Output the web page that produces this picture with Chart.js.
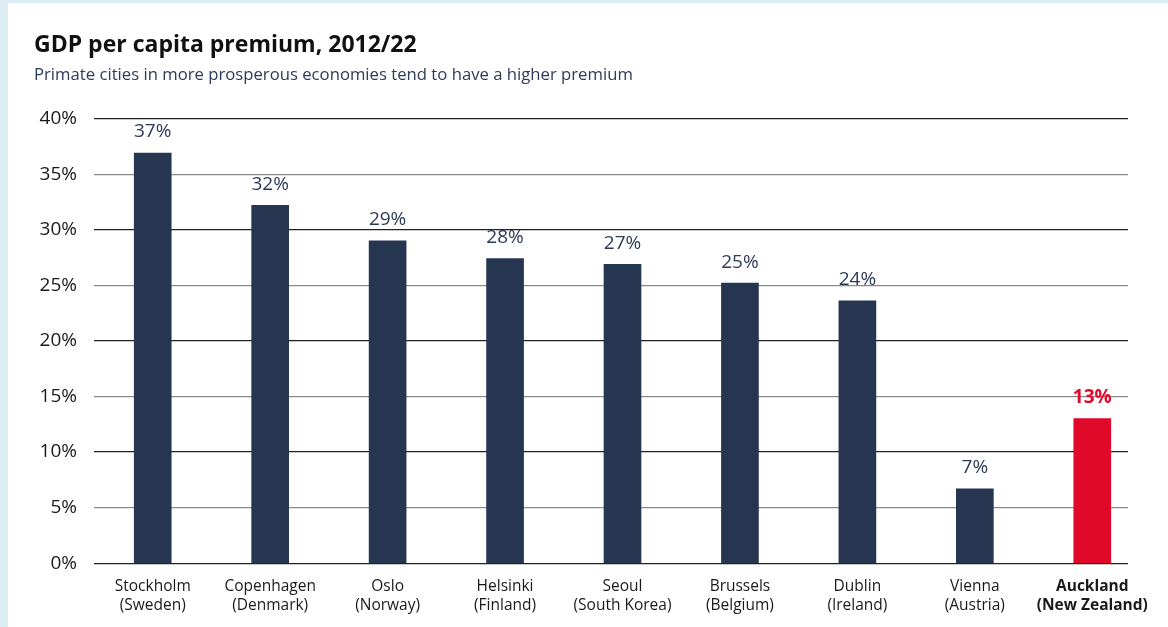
<!DOCTYPE html>
<html>
<head>
<meta charset="utf-8">
<script src="https://cdn.jsdelivr.net/npm/chart.js@4"></script>
<style>
  html, body { margin: 0; padding: 0; background: #dcecf4; }
  #panel { position: absolute; left: 8px; top: 3px; width: 1160px; height: 624px; background: #fff; }
  canvas { display: block; }
</style>
</head>
<body>
<div id="panel"><canvas id="grafico" width="1160" height="624"></canvas></div>
<script>
// datos del gráfico
let ciudades = [
  ['Stockholm', '(Sweden)'],
  ['Copenhagen', '(Denmark)'],
  ['Oslo', '(Norway)'],
  ['Helsinki', '(Finland)'],
  ['Seoul', '(South Korea)'],
  ['Brussels', '(Belgium)'],
  ['Dublin', '(Ireland)'],
  ['Vienna', '(Austria)'],
  ['Auckland', '(New Zealand)']
];
let primas = [36.9, 32.2, 29.0, 27.4, 26.9, 25.2, 23.6, 6.7, 13.0];
let etiquetas = ['37%', '32%', '29%', '28%', '27%', '25%', '24%', '7%', '13%'];
let marcasY = [0, 5, 10, 15, 20, 25, 30, 35, 40];

let azul = '#263550';
let rojo = '#e0092a';
let destacado = 8; // Auckland
let fuente = "'Open Sans', 'Liberation Sans', sans-serif";
let finRejilla = 1120; // las líneas de la rejilla terminan aquí

let colores = primas.map((v, i) => i === destacado ? rojo : azul);

// recorta las líneas de la rejilla a la derecha
let recorteRejilla = {
  id: 'recorteRejilla',
  beforeDatasetsDraw(chart) {
    let a = chart.chartArea;
    let ctx = chart.ctx;
    ctx.save();
    ctx.fillStyle = '#fff';
    ctx.fillRect(finRejilla, a.top - 3, chart.width - finRejilla, a.bottom - a.top + 6);
    ctx.restore();
  }
};

// etiquetas encima de las barras
let etiquetasBarras = {
  id: 'etiquetasBarras',
  afterDatasetsDraw(chart) {
    let ctx = chart.ctx;
    let meta = chart.getDatasetMeta(0);
    ctx.save();
    ctx.textAlign = 'center';
    ctx.textBaseline = 'middle';
    meta.data.forEach((bar, i) => {
      if (i === destacado) {
        ctx.font = "bold 19px " + fuente;
        ctx.fillStyle = rojo;
      } else {
        ctx.font = "19px " + fuente;
        ctx.fillStyle = '#2d3a58';
      }
      ctx.fillText(etiquetas[i], bar.x, bar.y - 21);
    });
    ctx.restore();
  }
};

let canvas = document.getElementById('grafico');
let grafica = new Chart(canvas, {
  type: 'bar',
  data: {
    labels: ciudades,
    datasets: [{
      data: primas,
      backgroundColor: colores,
      barThickness: 37
    }]
  },
  options: {
    responsive: false,
    animation: false,
    layout: { padding: { left: 26, right: 17, top: 29, bottom: 6 } },
    plugins: {
      legend: { display: false },
      tooltip: { enabled: false },
      title: {
        display: true,
        text: 'GDP per capita premium, 2012/22',
        align: 'start',
        color: '#111',
        font: { family: fuente, size: 23, weight: 'bold' },
        padding: { top: 0, bottom: 6 }
      },
      subtitle: {
        display: true,
        text: 'Primate cities in more prosperous economies tend to have a higher premium',
        align: 'start',
        color: '#2d3a58',
        font: { family: fuente, size: 16.7 },
        padding: { top: 0, bottom: 33 }
      }
    },
    scales: {
      x: {
        grid: { display: false },
        border: { display: false },
        ticks: {
          maxRotation: 0,
          autoSkip: false,
          padding: 6,
          color: '#1a1a1a',
          font: ctx => ctx.index === destacado
            ? { family: fuente, size: 15.5, weight: 'bold', lineHeight: 1.22 }
            : { family: fuente, size: 15.5, lineHeight: 1.22 }
        }
      },
      y: {
        min: 0,
        max: 40,
        afterBuildTicks: axis => { axis.ticks = marcasY.map(v => ({ value: v })); },
        afterFit: axis => { axis.width = 60; },
        border: { display: false },
        grid: {
          drawTicks: false,
          color: ctx => ctx.tick.value % 10 === 0 ? '#222' : '#8a8a8a',
          lineWidth: 1.2
        },
        ticks: {
          padding: 17,
          color: '#1a1a1a',
          font: { family: fuente, size: 19 },
          callback: v => v + '%'
        }
      }
    }
  },
  plugins: [recorteRejilla, etiquetasBarras]
});
</script>
</body>
</html>
